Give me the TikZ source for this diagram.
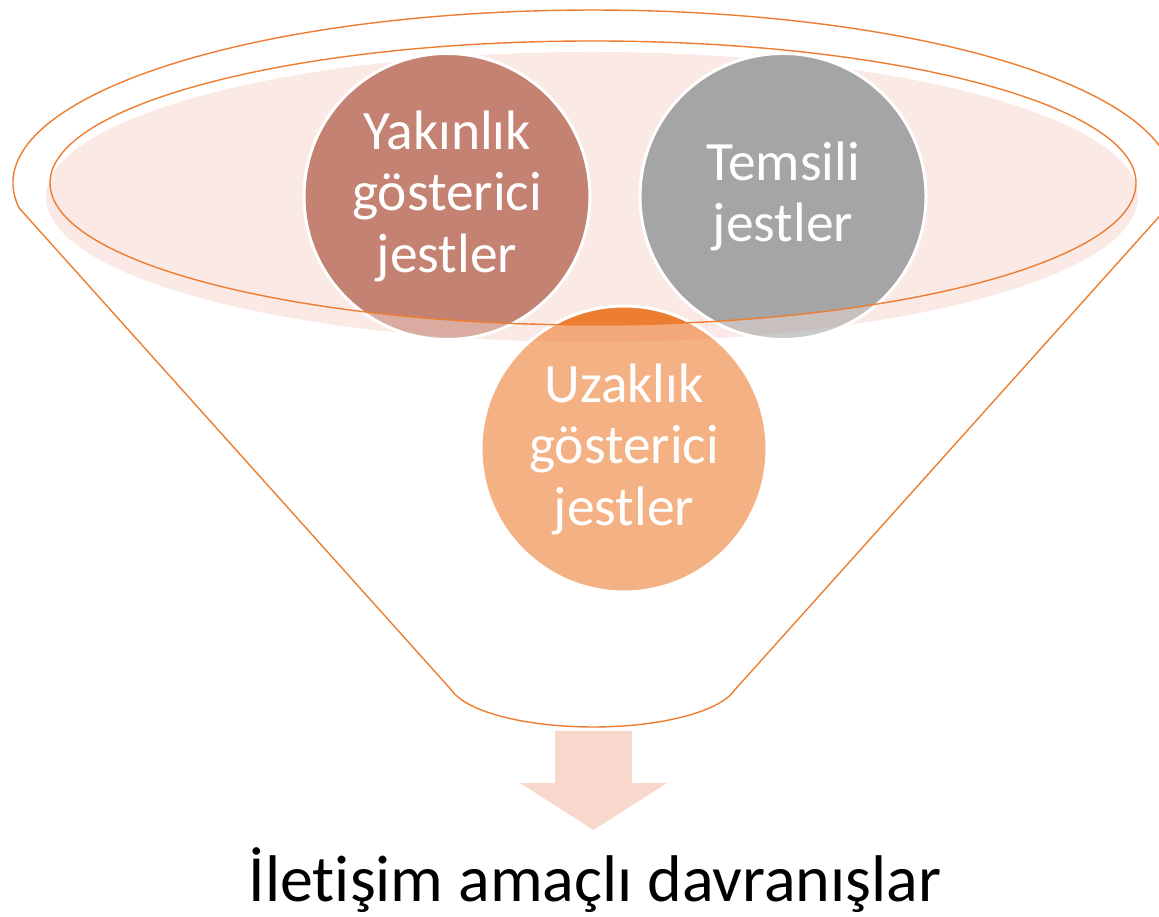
\documentclass[tikz,border=0pt]{standalone}
\usepackage{fontspec}
\setmainfont[RawFeature={-liga;-clig;-calt;-dlig}]{Carlito}
\definecolor{funnelc}{HTML}{ED7D31}
\definecolor{pinkc}{HTML}{FBE9E5}
\definecolor{yakc}{HTML}{C48272}
\definecolor{temc}{HTML}{A5A5A5}
\definecolor{uzc}{HTML}{ED7D31}
\definecolor{arrowc}{HTML}{F8D8CD}
\begin{document}
\begin{tikzpicture}[x=1pt,y=1pt,
  funnelline/.style={draw=funnelc, line width=1.4pt},
  discborder/.style={draw=white, line width=3pt},
  disc/.style={circle, minimum size=286pt, inner sep=0pt, text=white, align=center,
    font=\fontsize{55.5}{61.5}\selectfont},
  outtext/.style={text=black, font=\fontsize{66}{72}\selectfont}
]
\useasboundingbox (0,0) rectangle (1159,917);
\clip (0,0) rectangle (1159,917);

% outer funnel outline
\draw[funnelline] (19.1,709)
  arc[start angle=188.3, end angle=-8.3, x radius=580, y radius=173]
  -- (734.7,227)
  arc[start angle=-12.3, end angle=-167.7, x radius=145, y radius=47]
  -- cycle;

% light top of the funnel
\fill[pinkc] (592,720) ellipse[x radius=546, y radius=145];

% discs, faded outside the funnel mouth
\begin{scope}[fill opacity=0.6]
  \fill[yakc] (447,720.5) circle[radius=143];
  \fill[temc] (783,720.5) circle[radius=143];
  \fill[uzc] (624,468) circle[radius=143];
\end{scope}
% discs, full colour inside the funnel mouth
\begin{scope}
  \clip (593,734) ellipse[x radius=543, y radius=142];
  \fill[yakc] (447,720.5) circle[radius=143];
  \fill[temc] (783,720.5) circle[radius=143];
  \fill[uzc] (624,468) circle[radius=143];
\end{scope}
\draw[discborder] (447,720.5) circle[radius=143];
\draw[discborder] (783,720.5) circle[radius=143];
\draw[discborder] (624,468) circle[radius=143];

% funnel mouth rim
\draw[funnelline] (593,734) ellipse[x radius=543, y radius=142];

% texts
\node[disc] (yak) at (447,720.5) {Yakınlık\\gösterici\\jestler};
\node[disc] (tem) at (783,720.5) {Temsili\\jestler};
\node[disc] (uz) at (624,468) {Uzaklık\\gösterici\\jestler};

% output arrow
\fill[arrowc] (555,186) -- (632,186) -- (632,134) -- (667,134) -- (593.5,87)
  -- (520,134) -- (555,134) -- cycle;
\node[outtext, anchor=base] (out) at (595,15) {İletişim amaçlı davranışlar};
\end{tikzpicture}
\end{document}
